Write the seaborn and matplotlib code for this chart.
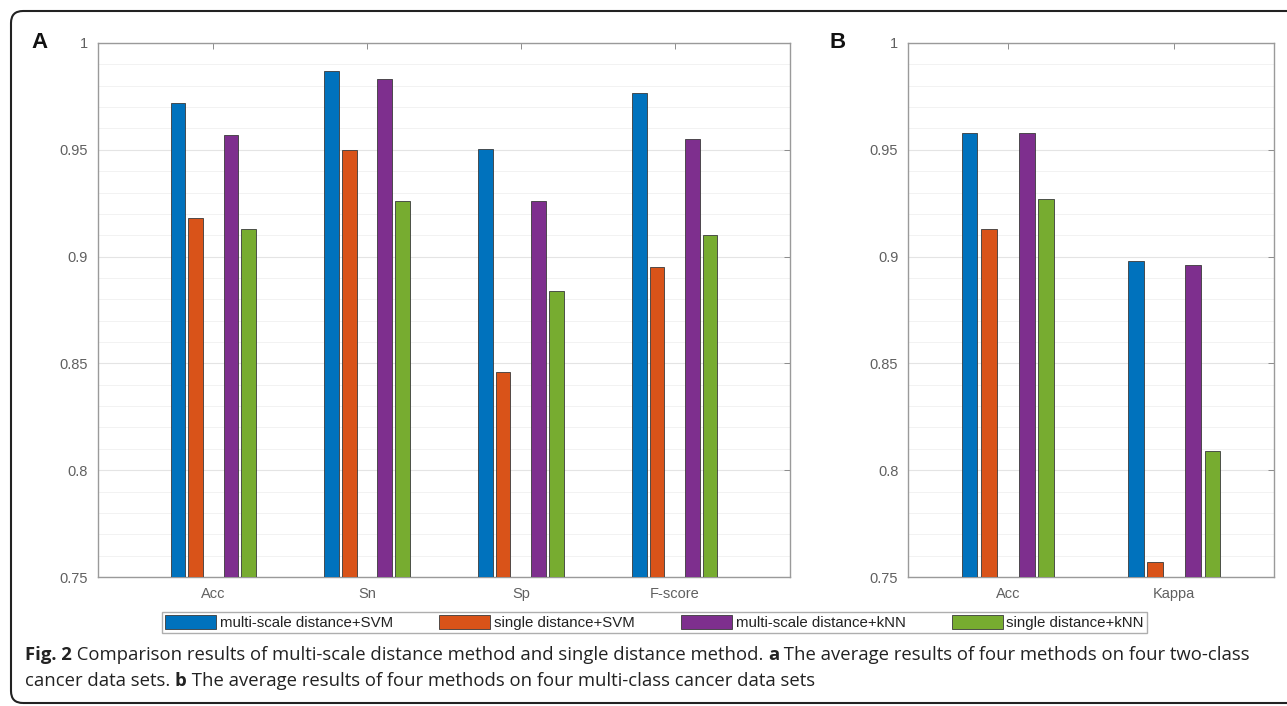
import numpy as np
import pandas as pd
import matplotlib.pyplot as plt
import matplotlib.ticker as mtick
from matplotlib.patches import Patch, FancyBboxPatch
from matplotlib.transforms import IdentityTransform
import seaborn as sns

# Panel A: two-class data sets
metrics_a = ["Acc", "Sn", "Sp", "F-score"]
msvm_a = [0.972, 0.987, 0.9505, 0.9765]
ssvm_a = [0.918, 0.950, 0.846, 0.895]
mknn_a = [0.957, 0.983, 0.926, 0.955]
sknn_a = [0.913, 0.926, 0.884, 0.910]

# Panel B: multi-class data sets
metrics_b = ["Acc", "Kappa"]
msvm_b = [0.958, 0.898]
ssvm_b = [0.913, 0.757]
mknn_b = [0.958, 0.896]
sknn_b = [0.927, 0.809]

methods = ["multi-scale distance+SVM", "single distance+SVM",
           "multi-scale distance+kNN", "single distance+kNN"]
colors = ["#0072BD", "#D95319", "#7E2F8E", "#77AC30"]
EMPTY = " "  # empty slot in the middle of each group, as in the original

def long_table(metrics, series):
    rows = []
    for method, vals in zip(methods, series):
        for m, v in zip(metrics, vals):
            rows.append({"metric": m, "method": method, "value": v})
    for m in metrics:
        rows.append({"metric": m, "method": EMPTY, "value": np.nan})
    return pd.DataFrame(rows)

df_a = long_table(metrics_a, [msvm_a, ssvm_a, mknn_a, sknn_a])
df_b = long_table(metrics_b, [msvm_b, ssvm_b, mknn_b, sknn_b])

hue_order = methods[:2] + [EMPTY] + methods[2:]
palette = dict(zip(methods, colors))
palette[EMPTY] = "white"

sns.set_style("white")
plt.rcParams["font.family"] = ["Liberation Sans", "DejaVu Sans"]

fig = plt.figure(figsize=(12.87, 7.06), dpi=100)
ax_a = fig.add_axes([0.0761, 0.1827, 0.5377, 0.7564])
ax_b = fig.add_axes([0.7055, 0.1827, 0.2844, 0.7564])

for ax, df, xlim in [(ax_a, df_a, (-0.75, 3.75)), (ax_b, df_b, (-0.6, 1.6))]:
    sns.barplot(data=df, x="metric", y="value", hue="method", hue_order=hue_order,
                palette=palette, saturation=1, width=0.575, gap=0.17,
                edgecolor="#3a3a3a", linewidth=0.6, legend=False, ax=ax, zorder=3)
    ax.set_ylim(0.75, 1.0)
    ax.set_xlim(*xlim)
    ax.set_xlabel("")
    ax.set_ylabel("")
    ax.set_yticks([0.75, 0.8, 0.85, 0.9, 0.95, 1.0])
    ax.set_yticklabels(["0.75", "0.8", "0.85", "0.9", "0.95", "1"])
    ax.yaxis.set_minor_locator(mtick.MultipleLocator(0.01))
    ax.grid(which="major", axis="y", color="#e4e4e4", lw=0.8, zorder=0)
    ax.grid(which="minor", axis="y", color="#f2f2f2", lw=0.7, zorder=0)
    ax.set_axisbelow(True)
    ax.tick_params(which="major", direction="in", top=True, right=True,
                   length=4, width=0.7, color="#8c8c8c", labelcolor="#606060",
                   labelsize=10.5, pad=7)
    ax.tick_params(which="minor", length=0)
    for s in ax.spines.values():
        s.set_color("#9a9a9a")
        s.set_linewidth(1.0)

fig.text(40 / 1287, 1 - 42 / 706, "A", fontsize=16, fontweight="bold",
         ha="center", va="center", color="#111111")
fig.text(838 / 1287, 1 - 42 / 706, "B", fontsize=16, fontweight="bold",
         ha="center", va="center", color="#111111")

handles = [Patch(facecolor=c, edgecolor="#3a3a3a", lw=0.6) for c in colors]
leg = fig.legend(handles, methods, loc="lower left", ncol=4, mode="expand",
                 bbox_to_anchor=(0.1259, 0.1034, 0.7653, 0.0354),
                 handlelength=3.4, handleheight=1.0, handletextpad=0.25,
                 fontsize=10.8, frameon=True, fancybox=False, borderpad=0.2,
                 borderaxespad=0)
leg.get_frame().set_edgecolor("#9a9a9a")
leg.get_frame().set_linewidth(1.0)
for t in leg.get_texts():
    t.set_color("#222222")

# outer rounded frame (cut off at the right edge)
frame = FancyBboxPatch((11, 3), 1300, 692, boxstyle="round,pad=0,rounding_size=12",
                       transform=IdentityTransform(), fill=False,
                       edgecolor="#222222", lw=1.5)
fig.patches.append(frame)

# caption with bold pieces
cap_font = ["Open Sans", "DejaVu Sans"]
cap_size = 13.3
renderer = fig.canvas.get_renderer()

def caption_line(pieces, y_px):
    x = 25
    for txt, bold in pieces:
        t = fig.text(x / 1287, 1 - y_px / 706, txt, fontsize=cap_size,
                     family=cap_font, fontweight="bold" if bold else "normal",
                     va="center", ha="left", color="#222222")
        bb = t.get_window_extent(renderer=renderer)
        x += bb.width

caption_line([("Fig. 2", True),
              (" Comparison results of multi-scale distance method and single distance method. ", False),
              ("a", True),
              (" The average results of four methods on four two-class", False)], 655)
caption_line([("cancer data sets. ", False), ("b", True),
              (" The average results of four methods on four multi-class cancer data sets", False)], 681)

fig.savefig("out.png", dpi=100)
